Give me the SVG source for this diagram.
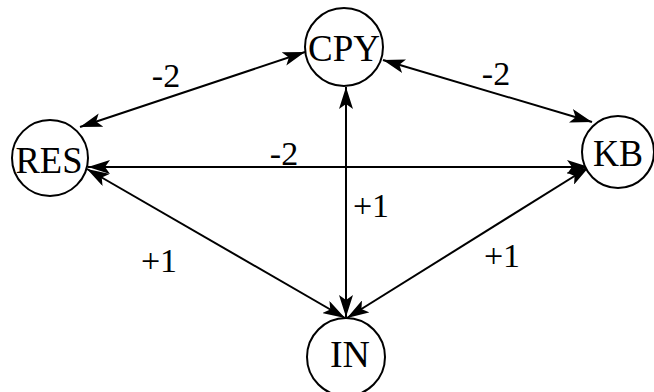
<svg xmlns="http://www.w3.org/2000/svg" width="654" height="392" viewBox="0 0 654 392">
<defs>
<marker id="ah" viewBox="0 0 22 14" refX="22" refY="7" markerWidth="22" markerHeight="14" markerUnits="userSpaceOnUse" orient="auto-start-reverse">
<path d="M0,0 L22,7 L0,14 L5,7 Z" fill="#000"/>
</marker>
<style>
.node circle{fill:#fff;stroke:#000;stroke-width:2}
.node text{font-family:"Liberation Serif","Times New Roman",serif;font-size:38px;fill:#000;text-anchor:middle}
.edge{stroke:#000;stroke-width:2;fill:none;marker-start:url(#ah);marker-end:url(#ah)}
.lbl{font-family:"Liberation Serif","Times New Roman",serif;font-size:34px;fill:#000;text-anchor:middle}
</style>
</defs>
<rect width="654" height="392" fill="#fff"/>
<g id="connectors">
<line class="edge" x1="80" y1="127" x2="305" y2="52"/>
<line class="edge" x1="383" y1="60" x2="592" y2="122"/>
<line class="edge" x1="88" y1="167" x2="589" y2="167"/>
<line class="edge" x1="346" y1="87" x2="346" y2="317"/>
<line class="edge" x1="87" y1="169" x2="345" y2="318"/>
<line class="edge" x1="589" y1="167" x2="347" y2="318"/>
<text class="lbl" x="166" y="87">-2</text>
<text class="lbl" x="496" y="85">-2</text>
<text class="lbl" x="284" y="165">-2</text>
<text class="lbl" x="371" y="217">+1</text>
<text class="lbl" x="159" y="272">+1</text>
<text class="lbl" x="502" y="267">+1</text>
</g>
<g id="CPY" class="node"><circle cx="344" cy="47" r="39"/><text x="344" y="61" textLength="72" lengthAdjust="spacingAndGlyphs">CPY</text></g>
<g id="RES" class="node"><circle cx="50" cy="158" r="38"/><text x="49" y="173" textLength="67" lengthAdjust="spacingAndGlyphs">RES</text></g>
<g id="KB" class="node"><circle cx="618" cy="152" r="36"/><text x="618" y="166" textLength="50" lengthAdjust="spacingAndGlyphs">KB</text></g>
<g id="IN" class="node"><circle cx="346" cy="357" r="39"/><text x="350" y="367" textLength="40" lengthAdjust="spacingAndGlyphs">IN</text></g>
</svg>
